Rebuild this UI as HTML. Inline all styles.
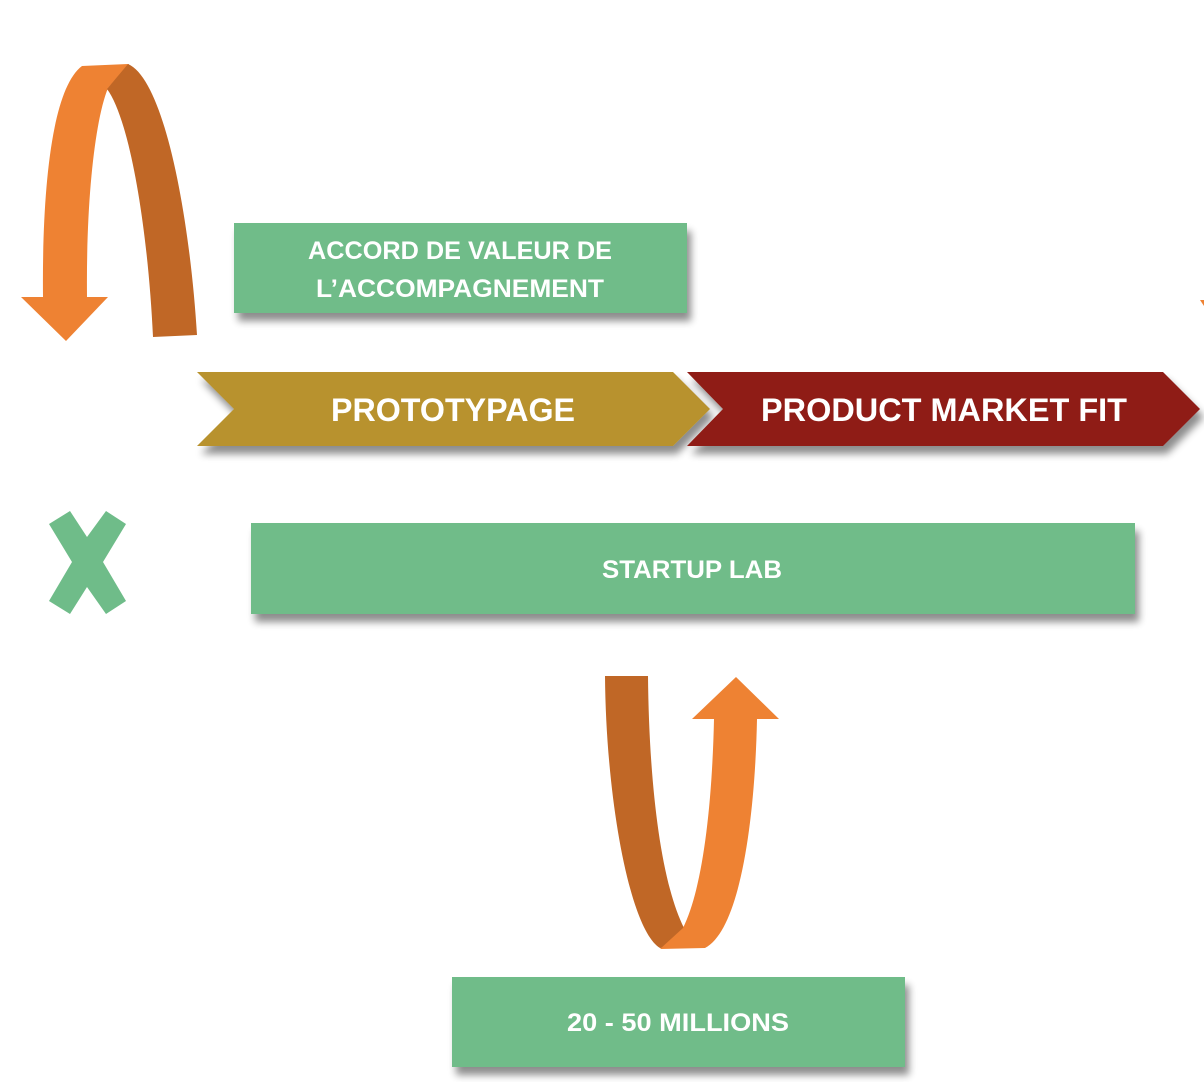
<!DOCTYPE html>
<html><head><meta charset="utf-8"><style>
html,body{margin:0;padding:0;background:#fff;width:1204px;height:1082px;overflow:hidden}
svg{display:block}
text{font-family:"Liberation Sans",sans-serif;font-weight:bold;fill:#fff}
</style></head><body>
<svg width="1204" height="1082" viewBox="0 0 1204 1082">
<defs>
<filter id="sh" x="-10%" y="-20%" width="120%" height="160%">
<feGaussianBlur in="SourceAlpha" stdDeviation="4"/>
<feOffset dx="4" dy="8"/>
<feComponentTransfer><feFuncA type="linear" slope="0.45"/></feComponentTransfer>
<feMerge><feMergeNode/><feMergeNode in="SourceGraphic"/></feMerge>
</filter>
</defs>
<!-- top curved arrow -->
<path d="M82,66 L129,64 L108,88 C95,120 86,200 87,297 L108,297 L66,341 L21,297 L43,297 C42,200 50,90 82,66 Z" fill="#ee8233"/>
<path d="M128,64 C165,80 190,220 197,335 L153,337 C148,230 130,120 107,89 Z" fill="#c06726"/>
<!-- bottom curved arrow -->
<path d="M605,676 L648,676 C649,780 660,880 684,928 C676,940 668,948 660,948 C630,930 606,800 605,676 Z" fill="#c06726"/>
<path d="M660,949 L705,948 C740,930 755,820 757,719 L779,719 L736,677 L692,719 L714,719 C712,810 702,890 683,928 Z" fill="#ee8233"/>
<!-- X -->
<polygon points="49,524 70,511 87,537 106,511 126,524 103,562 126,601 106,614 87,587 70,614 49,601 72,562" fill="#6fbc89"/>
<!-- chevrons -->
<polygon points="197,372 673,372 710,409 673,446 197,446 234,409" fill="#b8922f" filter="url(#sh)"/>
<polygon points="687,372 1163,372 1200,409 1163,446 687,446 723,409" fill="#8f1a12" filter="url(#sh)"/>
<text x="453" y="421" font-size="32" text-anchor="middle" textLength="244" lengthAdjust="spacingAndGlyphs">PROTOTYPAGE</text>
<text x="944" y="421" font-size="32" text-anchor="middle" textLength="366" lengthAdjust="spacingAndGlyphs">PRODUCT MARKET FIT</text>
<!-- green boxes -->
<rect x="234" y="223" width="453" height="90" fill="#6fbc89" filter="url(#sh)"/>
<text x="460" y="259" font-size="25" text-anchor="middle" textLength="304" lengthAdjust="spacingAndGlyphs">ACCORD DE VALEUR DE</text>
<text x="460" y="297" font-size="25" text-anchor="middle" textLength="288" lengthAdjust="spacingAndGlyphs">L’ACCOMPAGNEMENT</text>
<rect x="251" y="523" width="884" height="91" fill="#6fbc89" filter="url(#sh)"/>
<text x="692" y="578" font-size="25" text-anchor="middle" textLength="180" lengthAdjust="spacingAndGlyphs">STARTUP LAB</text>
<rect x="452" y="977" width="453" height="90" fill="#6fbc89" filter="url(#sh)"/>
<text x="678" y="1031" font-size="25" text-anchor="middle" textLength="222" lengthAdjust="spacingAndGlyphs">20 - 50 MILLIONS</text>
<!-- right-edge fragments -->
<polygon points="1200,300 1204,300 1204,306" fill="#ee8233"/>
</svg>
</body></html>
